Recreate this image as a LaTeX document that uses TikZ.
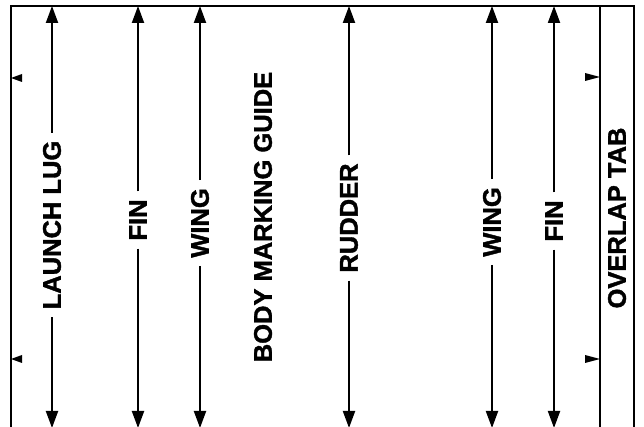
\documentclass[tikz,border=0pt]{standalone}
\usepackage{fontspec}
\setmainfont{Liberation Sans}
\newfontfamily\lblfont{Liberation Sans}[BoldFeatures={FakeBold=1.5}]
\usetikzlibrary{arrows.meta}
\begin{document}
\begin{tikzpicture}[x=1pt,y=1pt]
\tikzset{
  frame/.style={line width=2.3pt},
  dim/.style={line width=2pt,-{Triangle[length=17pt,width=12pt]}},
  lbl/.style={rotate=90,font=\lblfont\fontsize{25.5}{30}\selectfont\bfseries,inner xsep=8pt,inner ysep=0pt},
  tickmark/.style={fill=black}
}
\useasboundingbox (0,0) rectangle (644,427);
% frame
\draw[frame] (11,0) -- (11,421) -- (634,421) -- (634,0);
\draw[frame] (600,421) -- (600,0);
% tick marks
\fill[tickmark] (11,349) -- (22,353) -- (22,345) -- cycle;
\fill[tickmark] (11,68) -- (22,72) -- (22,64) -- cycle;
\fill[tickmark] (600,350) -- (585,354) -- (585,346) -- cycle;
\fill[tickmark] (600,68) -- (585,72) -- (585,64) -- cycle;
% labels
\node[lbl] (lug) at (52,202) {LAUNCH LUG};
\node[lbl] (finA) at (138,207) {FIN};
\node[lbl] (wingA) at (200,204) {WING};
\node[lbl] (title) at (263,210) {BODY MARKING GUIDE};
\node[lbl] (rud) at (349,209) {RUDDER};
\node[lbl] (wingB) at (492,205) {WING};
\node[lbl] (finB) at (554,206) {FIN};
\node[lbl] (tab) at (617,209) {OVERLAP TAB};
% end points
\coordinate (lugT) at (52,421);  \coordinate (lugB) at (52,-1);
\coordinate (finAT) at (138,421); \coordinate (finAB) at (138,-1);
\coordinate (wingAT) at (200,421); \coordinate (wingAB) at (200,-1);
\coordinate (rudT) at (349,421); \coordinate (rudB) at (349,-1);
\coordinate (wingBT) at (492,421); \coordinate (wingBB) at (492,-1);
\coordinate (finBT) at (554,421); \coordinate (finBB) at (554,-1);
% dimension arrows
\foreach \n in {lug,finA,wingA,rud,wingB,finB}{
  \draw[dim] (\n.east) -- (\n T);
  \draw[dim] (\n.west) -- (\n B);
}
\end{tikzpicture}
\end{document}
